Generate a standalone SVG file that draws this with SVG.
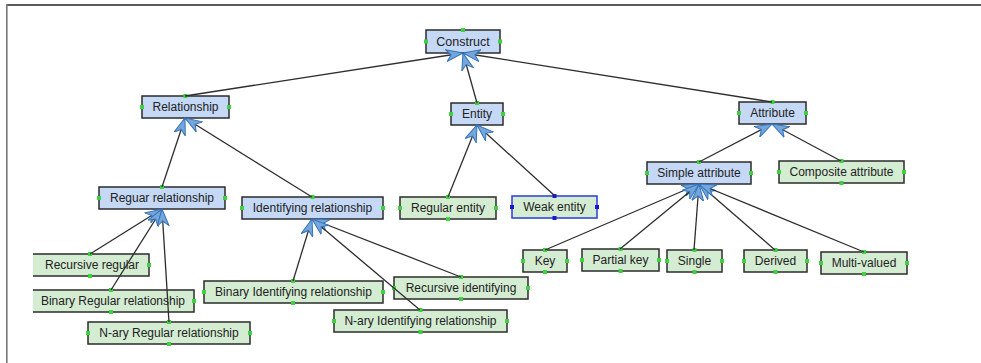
<svg xmlns="http://www.w3.org/2000/svg" width="981" height="363" viewBox="0 0 981 363">
<style>
.b{fill:#c5d8f6;stroke:#2b2b2b;stroke-width:1.5}
.g{fill:#d4ecd2;stroke:#2b2b2b;stroke-width:1.5}
.w{fill:#d4ecd2;stroke:#2a3cd8;stroke-width:1.5}
.t{font-family:"Liberation Sans",Arial,sans-serif;font-size:12px;fill:#222;text-anchor:middle}
.h{fill:#3fd23f}
.hb{fill:#1a1acc}
.c line{stroke:#2e2e2e;stroke-width:1.3;marker-end:url(#arr)}
</style>
<defs>
<marker id="arr" markerUnits="userSpaceOnUse" markerWidth="18" markerHeight="13" refX="17" refY="6.5" orient="auto">
<path d="M0,0.5 L17,6.5 L0,12.5 L5,6.5 Z" fill="#74a6dc" stroke="#3573b8" stroke-width="1"/>
</marker>
<clipPath id="clip"><rect x="33" y="0" width="948" height="363"/></clipPath>
</defs>
<rect x="0" y="0" width="981" height="363" fill="#fff"/>
<rect x="6" y="4" width="975" height="2" fill="#5a5a5a"/>
<rect x="6" y="4" width="1.6" height="359" fill="#777"/>

<g id="construct"><rect class="b" x="426" y="30" width="74" height="23"/><text class="t" x="463" y="46" style="font-size:12.5px">Construct</text>
<rect class="h" x="461" y="28" width="4" height="4"/><rect class="h" x="424" y="39.5" width="4" height="4"/><rect class="h" x="498" y="39.5" width="4" height="4"/></g>

<g id="relationship"><rect class="b" x="142" y="96" width="87" height="22"/><text class="t" x="185.5" y="111">Relationship</text>
<rect class="h" x="183.5" y="94" width="4" height="4"/><rect class="h" x="140" y="105" width="4" height="4"/><rect class="h" x="227" y="105" width="4" height="4"/></g>

<g id="entity"><rect class="b" x="451" y="103" width="52" height="22"/><text class="t" x="477" y="118">Entity</text>
<rect class="h" x="475" y="101" width="4" height="4"/><rect class="h" x="449" y="112" width="4" height="4"/><rect class="h" x="501" y="112" width="4" height="4"/></g>

<g id="attribute"><rect class="b" x="739" y="102" width="67" height="22"/><text class="t" x="772.5" y="117">Attribute</text>
<rect class="h" x="770.5" y="100" width="4" height="4"/><rect class="h" x="737" y="111" width="4" height="4"/><rect class="h" x="804" y="111" width="4" height="4"/></g>

<g id="reguar-relationship"><rect class="b" x="99" y="187" width="126" height="22"/><text class="t" x="162" y="202">Reguar relationship</text>
<rect class="h" x="160" y="185" width="4" height="4"/><rect class="h" x="97" y="196" width="4" height="4"/><rect class="h" x="223" y="196" width="4" height="4"/></g>

<g id="identifying-relationship"><rect class="b" x="242" y="197" width="141" height="22"/><text class="t" x="312.5" y="212">Identifying relationship</text>
<rect class="h" x="310.5" y="195" width="4" height="4"/><rect class="h" x="240" y="206" width="4" height="4"/><rect class="h" x="381" y="206" width="4" height="4"/></g>

<g id="regular-entity"><rect class="g" x="400" y="197" width="96" height="22"/><text class="t" x="448" y="212">Regular entity</text>
<rect class="h" x="446" y="195" width="4" height="4"/><rect class="h" x="446" y="217" width="4" height="4"/><rect class="h" x="398" y="206" width="4" height="4"/><rect class="h" x="494" y="206" width="4" height="4"/></g>

<g id="weak-entity"><rect class="w" x="512" y="196" width="85" height="22"/><text class="t" x="554.5" y="211">Weak entity</text>
<rect class="hb" x="552.5" y="194" width="4" height="4"/><rect class="hb" x="552.5" y="216" width="4" height="4"/><rect class="hb" x="510" y="205" width="4" height="4"/><rect class="hb" x="595" y="205" width="4" height="4"/></g>

<g id="simple-attribute"><rect class="b" x="647" y="162" width="104" height="22"/><text class="t" x="699" y="177">Simple attribute</text>
<rect class="h" x="697" y="160" width="4" height="4"/><rect class="h" x="645" y="171" width="4" height="4"/><rect class="h" x="749" y="171" width="4" height="4"/></g>

<g id="composite-attribute"><rect class="g" x="779" y="161" width="125" height="22"/><text class="t" x="841.5" y="176">Composite attribute</text>
<rect class="h" x="839.5" y="159" width="4" height="4"/><rect class="h" x="839.5" y="181" width="4" height="4"/><rect class="h" x="777" y="170" width="4" height="4"/><rect class="h" x="902" y="170" width="4" height="4"/></g>

<g id="recursive-regular" clip-path="url(#clip)"><rect class="g" x="31" y="254" width="118" height="22"/><text class="t" x="92" y="269">Recursive regular</text>
<rect class="h" x="88" y="252" width="4" height="4"/><rect class="h" x="88" y="274" width="4" height="4"/><rect class="h" x="147" y="263" width="4" height="4"/></g>

<g id="binary-regular-relationship" clip-path="url(#clip)"><rect class="g" x="28" y="290" width="166" height="22"/><text class="t" x="113" y="305">Binary Regular relationship</text>
<rect class="h" x="109" y="288" width="4" height="4"/><rect class="h" x="109" y="310" width="4" height="4"/><rect class="h" x="192" y="299" width="4" height="4"/></g>

<g id="nary-regular-relationship"><rect class="g" x="88" y="322" width="162" height="22"/><text class="t" x="169" y="337">N-ary Regular relationship</text>
<rect class="h" x="167" y="320" width="4" height="4"/><rect class="h" x="167" y="342" width="4" height="4"/><rect class="h" x="86" y="331" width="4" height="4"/><rect class="h" x="248" y="331" width="4" height="4"/></g>

<g id="binary-identifying-relationship"><rect class="g" x="204" y="281" width="179" height="22"/><text class="t" x="293.5" y="296">Binary Identifying relationship</text>
<rect class="h" x="291" y="279" width="4" height="4"/><rect class="h" x="291" y="301" width="4" height="4"/><rect class="h" x="202" y="290" width="4" height="4"/><rect class="h" x="381" y="290" width="4" height="4"/></g>

<g id="recursive-identifying"><rect class="g" x="394" y="277" width="134" height="22"/><text class="t" x="461" y="292">Recursive identifying</text>
<rect class="h" x="459" y="275" width="4" height="4"/><rect class="h" x="459" y="297" width="4" height="4"/><rect class="h" x="392" y="286" width="4" height="4"/><rect class="h" x="526" y="286" width="4" height="4"/></g>

<g id="nary-identifying-relationship"><rect class="g" x="334" y="310" width="173" height="22"/><text class="t" x="420.5" y="325">N-ary Identifying relationship</text>
<rect class="h" x="418.5" y="308" width="4" height="4"/><rect class="h" x="418.5" y="330" width="4" height="4"/><rect class="h" x="332" y="319" width="4" height="4"/><rect class="h" x="505" y="319" width="4" height="4"/></g>

<g id="key"><rect class="g" x="523" y="250" width="44" height="22"/><text class="t" x="545" y="265">Key</text>
<rect class="h" x="543" y="248" width="4" height="4"/><rect class="h" x="543" y="270" width="4" height="4"/><rect class="h" x="521" y="259" width="4" height="4"/><rect class="h" x="565" y="259" width="4" height="4"/></g>

<g id="partial-key"><rect class="g" x="582" y="249" width="77" height="22"/><text class="t" x="620.5" y="264">Partial key</text>
<rect class="h" x="618.5" y="247" width="4" height="4"/><rect class="h" x="618.5" y="269" width="4" height="4"/><rect class="h" x="580" y="258" width="4" height="4"/><rect class="h" x="657" y="258" width="4" height="4"/></g>

<g id="single"><rect class="g" x="667" y="250" width="55" height="22"/><text class="t" x="694.5" y="265">Single</text>
<rect class="h" x="692.5" y="248" width="4" height="4"/><rect class="h" x="692.5" y="270" width="4" height="4"/><rect class="h" x="665" y="259" width="4" height="4"/><rect class="h" x="720" y="259" width="4" height="4"/></g>

<g id="derived"><rect class="g" x="744" y="250" width="63" height="22"/><text class="t" x="775.5" y="265">Derived</text>
<rect class="h" x="773.5" y="248" width="4" height="4"/><rect class="h" x="773.5" y="270" width="4" height="4"/><rect class="h" x="742" y="259" width="4" height="4"/><rect class="h" x="805" y="259" width="4" height="4"/></g>

<g id="multi-valued"><rect class="g" x="821" y="252" width="86" height="22"/><text class="t" x="864" y="267">Multi-valued</text>
<rect class="h" x="862" y="250" width="4" height="4"/><rect class="h" x="862" y="272" width="4" height="4"/><rect class="h" x="819" y="261" width="4" height="4"/><rect class="h" x="905" y="261" width="4" height="4"/></g>

<g class="c" id="connectors">
<line x1="185" y1="96" x2="463" y2="53"/>
<line x1="477" y1="103" x2="463" y2="53"/>
<line x1="772" y1="102" x2="463" y2="53"/>
<line x1="162" y1="187" x2="185" y2="118"/>
<line x1="312" y1="197" x2="185" y2="118"/>
<line x1="90" y1="254" x2="162" y2="209"/>
<line x1="111" y1="290" x2="162" y2="209"/>
<line x1="169" y1="322" x2="162" y2="209"/>
<line x1="293" y1="281" x2="312" y2="219"/>
<line x1="461" y1="277" x2="312" y2="219"/>
<line x1="420" y1="310" x2="312" y2="219"/>
<line x1="448" y1="197" x2="477" y2="125"/>
<line x1="555" y1="196" x2="477" y2="125"/>
<line x1="699" y1="162" x2="772" y2="124"/>
<line x1="841" y1="161" x2="772" y2="124"/>
<line x1="545" y1="250" x2="699" y2="184"/>
<line x1="620" y1="249" x2="699" y2="184"/>
<line x1="694" y1="250" x2="699" y2="184"/>
<line x1="775" y1="250" x2="699" y2="184"/>
<line x1="864" y1="252" x2="699" y2="184"/>
</g>
</svg>
